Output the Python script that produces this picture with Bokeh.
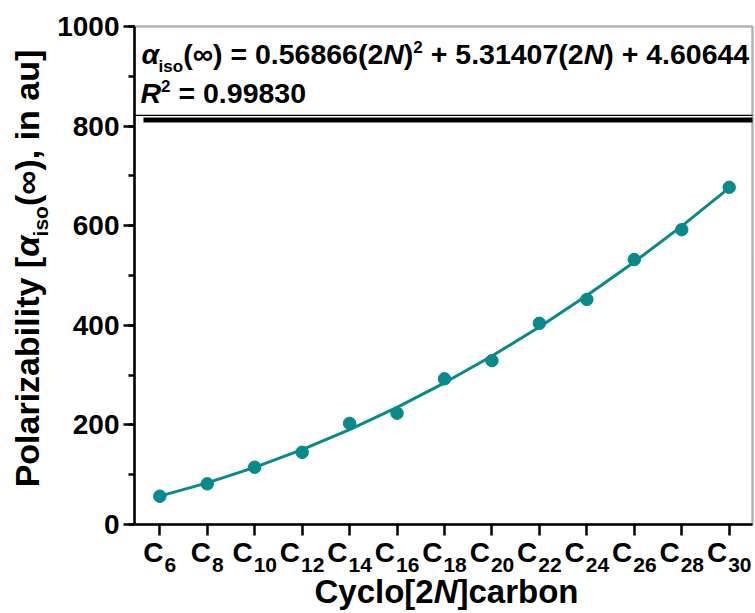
import math
from bokeh.plotting import figure
from bokeh.models import Range1d, FixedTicker, SingleIntervalTicker, Label, BoxAnnotation
from bokeh.embed import file_html
from bokeh.resources import INLINE

# ---------------- data ----------------
ring_size = [6, 8, 10, 12, 14, 16, 18, 20, 22, 24, 26, 28, 30]          # 2N
tick_subscripts = ["6", "8", "10", "12", "14", "16", "18", "20", "22", "24", "26", "28", "30"]
polarizability = [56.8, 81.7, 115, 145, 203, 223.5, 292.5, 329, 404, 452, 532, 592, 677]
fit_curve = [57.0, 83.5, 114.6, 150.3, 190.5, 235.2, 284.5, 338.4, 396.7, 459.7, 527.2, 599.2, 675.8]
y_ticks = [0, 200, 400, 600, 800, 1000]
eq_coeffs = ["0.56866", "5.31407", "4.60644"]
r_squared = "0.99830"

TEAL = "#08898A"
FONT = "Liberation Sans"

# ---------------- layout constants (pixels) ----------------
W_PX, H_PX = 755, 613
F_LEFT, F_RIGHT, F_TOP, F_BOTTOM = 134, 752, 26, 524
C6_PX, C30_PX = 159.3, 728.7
SX = (C30_PX - C6_PX) / (ring_size[-1] - ring_size[0])
SY = (F_BOTTOM - F_TOP) / (y_ticks[-1] - y_ticks[0])
BASE_FIX = 0.43   # correction of Bokeh's alphabetic baseline placement (em)


def xd(px):
    return ring_size[0] + (px - C6_PX) / SX


def yd(py):
    return y_ticks[0] + (F_BOTTOM - py) / SY


# Arial / Liberation Sans Bold advance widths (1/1000 em)
AW = {' ': 278, '(': 333, ')': 333, '.': 278, ',': 278, '=': 584, '+': 584, '[': 333, ']': 333,
      'C': 722, 'N': 722, 'R': 722, 'P': 667, 'a': 556, 'b': 611, 'c': 556, 'i': 278, 'l': 278,
      'n': 611, 'o': 611, 'r': 389, 's': 556, 't': 333, 'u': 611, 'y': 556, 'z': 500,
      'α': 600, '∞': 713}


def tw(s, size):
    return sum(AW.get(c, 556) for c in s) / 1000.0 * size


# frame covers the whole canvas; axes are pinned with fixed_location
p = figure(width=W_PX, height=H_PX, output_backend="svg", toolbar_location=None, title=None,
           x_range=Range1d(xd(0), xd(W_PX)), y_range=Range1d(yd(H_PX), yd(0)),
           min_border=0)
p.xgrid.visible = False
p.ygrid.visible = False
p.background_fill_color = "white"
p.border_fill_color = "white"
p.outline_line_color = None

for ax in (p.xaxis[0], p.yaxis[0]):
    ax.axis_line_width = 2.5
    ax.axis_line_color = "black"
    ax.major_tick_line_width = 2.5
    ax.minor_tick_line_width = 2.5
    ax.major_tick_in = 0
    ax.minor_tick_in = 0
    ax.major_tick_line_color = "black"
    ax.minor_tick_line_color = "black"

p.xaxis.fixed_location = y_ticks[0]
p.xaxis.bounds = (xd(F_LEFT), xd(F_RIGHT))
p.xaxis.ticker = FixedTicker(ticks=ring_size, minor_ticks=[])
p.xaxis.major_tick_out = 11
p.xaxis.major_label_overrides = {v: "" for v in ring_size}
p.xaxis.axis_label = None

p.yaxis.fixed_location = xd(F_LEFT)
p.yaxis.bounds = (y_ticks[0], y_ticks[-1])
p.yaxis.ticker = SingleIntervalTicker(interval=200, num_minor_ticks=2)
p.yaxis.major_tick_out = 11
p.yaxis.minor_tick_out = 6
p.yaxis.major_label_standoff = 4
p.yaxis.major_label_text_font = FONT
p.yaxis.major_label_text_font_style = "bold"
p.yaxis.major_label_text_font_size = "28px"
p.yaxis.major_label_text_color = "black"
p.yaxis.axis_label = None

# box border (top / right) of the plotting area
p.add_layout(BoxAnnotation(left=xd(F_LEFT), right=xd(F_RIGHT), bottom=y_ticks[0], top=y_ticks[-1],
                           fill_alpha=0, line_color="black", line_width=2.5))

# data
p.line(ring_size, fit_curve, line_width=3, line_color=TEAL)
p.scatter(ring_size, polarizability, size=12.5, fill_color=TEAL, line_color=TEAL)

# equation box lines
p.add_layout(BoxAnnotation(left=xd(F_LEFT), right=xd(F_RIGHT), top=yd(114.3), bottom=yd(115.6),
                           fill_color="black", fill_alpha=1.0, line_color=None))
p.add_layout(BoxAnnotation(left=xd(143), right=xd(F_RIGHT), top=yd(117), bottom=yd(122),
                           fill_color="black", fill_alpha=1.0, line_color=None))


def lab(x, y, text, size, style="bold", angle=0.0):
    p.add_layout(Label(x=x, y=y, x_units="data", y_units="data", text=text,
                       text_font=FONT, text_font_size=f"{size}px", text_font_style=style,
                       text_color="black", text_baseline="alphabetic", text_align="left",
                       angle=angle, angle_units="rad"))


def runs_h(runs, x0, base):
    cx = x0
    for text, size, style, dy in runs:
        stripped = text.lstrip(" ")
        cx += tw(text[:len(text) - len(stripped)], size)
        lab(xd(cx), yd(base + dy - BASE_FIX * size), stripped, size, style)
        cx += tw(stripped, size)


def runs_v(runs, base_x, y0):
    cy = y0
    for text, size, style, dx in runs:
        stripped = text.lstrip(" ")
        cy -= tw(text[:len(text) - len(stripped)], size)
        lab(xd(base_x + dx - BASE_FIX * size), yd(cy), stripped, size, style, angle=math.pi / 2)
        cy -= tw(stripped, size)


def width_runs(runs):
    return sum(tw(r[0], r[1]) for r in runs)


# equation text
EQ, SUB = 28.5, 17
runs_h([("α", EQ, "bold italic", 0), ("iso", SUB, "bold", 7),
        ("(∞) = " + eq_coeffs[0] + "(2", EQ, "bold", 0), ("N", EQ, "bold italic", 0),
        (")", EQ, "bold", 0), ("2", SUB, "bold", -12),
        (" + " + eq_coeffs[1] + "(2", EQ, "bold", 0), ("N", EQ, "bold italic", 0),
        (")", EQ, "bold", 0), (" + " + eq_coeffs[2], EQ, "bold", 0)], 141, 66)
runs_h([("R", EQ, "bold italic", 0), ("2", SUB, "bold", -12),
        (" = " + r_squared, EQ, "bold", 0)], 140, 105)

# x tick labels C_n
TK, TS = 28, 21
for n, sub in zip(ring_size, tick_subscripts):
    px = C6_PX + (n - ring_size[0]) * SX
    g = tw("C", TK) + 1 + tw(sub, TS)
    x0 = px - g / 2
    runs_h([("C", TK, "bold", 0)], x0, 564)
    runs_h([(sub, TS, "bold", 0)], x0 + tw("C", TK) + 1, 574)

# x axis title
TT = 33
xr = [("Cyclo[2", TT, "bold", 0), ("N", TT, "bold italic", 0), ("]carbon", TT, "bold", 0)]
runs_h(xr, 446 - width_runs(xr) / 2, 605)

# y axis title (rotated)
TY = 34
yr = [("Polarizability [", TY, "bold", 0), ("α", TY, "bold italic", 0), ("iso", 21, "bold", 8),
      ("(∞), in au]", TY, "bold", 0)]
runs_v(yr, 41, 268 + width_runs(yr) / 2)

open("out.html", "w").write(file_html(p, INLINE))
